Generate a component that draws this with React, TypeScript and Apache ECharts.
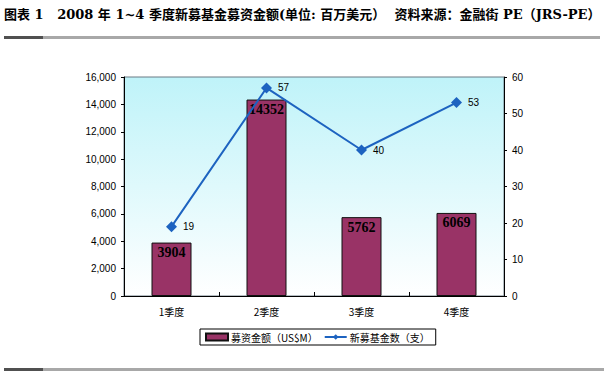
import React, { useEffect, useRef } from "react";
import * as echarts from "echarts";

const categories = ["1季度", "2季度", "3季度", "4季度"];
const amountValues = [3904, 14352, 5762, 6069];
const fundCounts = [19, 57, 40, 53];
const titleText = "图表 1   2008 年 1~4 季度新募基金募资金额(单位: 百万美元）  资料来源：金融街 PE（JRS-PE）";
const barName = "募资金额（US$M）";
const lineName = "新募基金数（支）";

export default function App() {
  const ref = useRef<HTMLDivElement>(null);
  useEffect(() => {
    document.body.style.margin = "0";
    const chart = echarts.init(ref.current!, null, { renderer: "svg" });
    chart.setOption({
      animation: false,
      backgroundColor: "#ffffff",
      graphic: [
        {
          type: "text",
          left: 4,
          top: 8,
          style: {
            text: titleText,
            font: "bold 13px 'DejaVu Serif', 'Noto Sans CJK SC', serif",
            fill: "#000",
          },
        },
        { type: "rect", shape: { x: 4, y: 36, width: 596, height: 3 }, style: { fill: "#a8a8a8" } },
        { type: "rect", shape: { x: 4, y: 36, width: 39, height: 3 }, style: { fill: "#505050" } },
        { type: "rect", shape: { x: 4, y: 368, width: 600, height: 3 }, style: { fill: "#a8a8a8" } },
        { type: "rect", shape: { x: 4, y: 368, width: 39, height: 3 }, style: { fill: "#505050" } },
      ],
      grid: {
        left: 124,
        right: 102,
        top: 77,
        bottom: 79,
        show: true,
        borderColor: "#6a7a84",
        borderWidth: 1,
        backgroundColor: new echarts.graphic.LinearGradient(0, 0, 0, 1, [
          { offset: 0, color: "#bff3f9" },
          { offset: 1, color: "#ffffff" },
        ]),
      },
      legend: {
        left: 200,
        top: 329,
        orient: "horizontal",
        itemGap: 6,
        itemWidth: 22,
        itemHeight: 7,
        padding: [3, 6, 3, 5],
        borderColor: "#000",
        borderWidth: 1,
        backgroundColor: "#fff",
        textStyle: { fontSize: 10, color: "#000", fontFamily: "'Noto Sans CJK SC', sans-serif", padding: [0, 0, 0, -2] },
        data: [
          { name: barName, icon: "rect" },
          { name: lineName },
        ],
      },
      xAxis: {
        type: "category",
        data: categories,
        axisLine: { lineStyle: { color: "#000" } },
        axisTick: { show: true, inside: true, length: 4, lineStyle: { color: "#000" } },
        axisLabel: { fontSize: 10, color: "#000", margin: 10, fontFamily: "'Noto Sans CJK SC', sans-serif" },
      },
      yAxis: [
        {
          type: "value",
          min: 0,
          max: 16000,
          interval: 2000,
          splitLine: { show: false },
          axisLine: { show: true, lineStyle: { color: "#000" } },
          axisTick: { show: true, length: 3, lineStyle: { color: "#000" } },
          axisLabel: {
            fontSize: 10,
            color: "#000",
            fontFamily: "Arial, 'Liberation Sans', sans-serif",
            formatter: (v: number) => v.toLocaleString("en-US"),
            margin: 8,
          },
        },
        {
          type: "value",
          min: 0,
          max: 60,
          interval: 10,
          splitLine: { show: false },
          axisLine: { show: true, lineStyle: { color: "#000" } },
          axisTick: { show: true, length: 3, lineStyle: { color: "#000" } },
          axisLabel: {
            fontSize: 10,
            color: "#000",
            fontFamily: "Arial, 'Liberation Sans', sans-serif",
            margin: 8,
          },
        },
      ],
      series: [
        {
          name: barName,
          type: "bar",
          yAxisIndex: 0,
          data: amountValues,
          barWidth: 40,
          itemStyle: { color: "#993366", borderColor: "#111", borderWidth: 1 },
          label: {
            show: true,
            position: "insideTop",
            distance: 3,
            color: "#000",
            fontSize: 14,
            fontWeight: "bold",
            fontFamily: "'Liberation Serif', 'Times New Roman', serif",
          },
        },
        {
          name: lineName,
          type: "line",
          yAxisIndex: 1,
          data: fundCounts,
          symbol: "diamond",
          symbolSize: 11,
          lineStyle: { color: "#1d63c0", width: 2 },
          itemStyle: { color: "#1d63c0" },
          label: {
            show: true,
            position: "right",
            distance: 6,
            color: "#000",
            fontSize: 10,
            fontFamily: "Arial, 'Liberation Sans', sans-serif",
          },
        },
      ],
    });
    return () => chart.dispose();
  }, []);
  return <div ref={ref} style={{ width: 606, height: 375 }} />;
}
